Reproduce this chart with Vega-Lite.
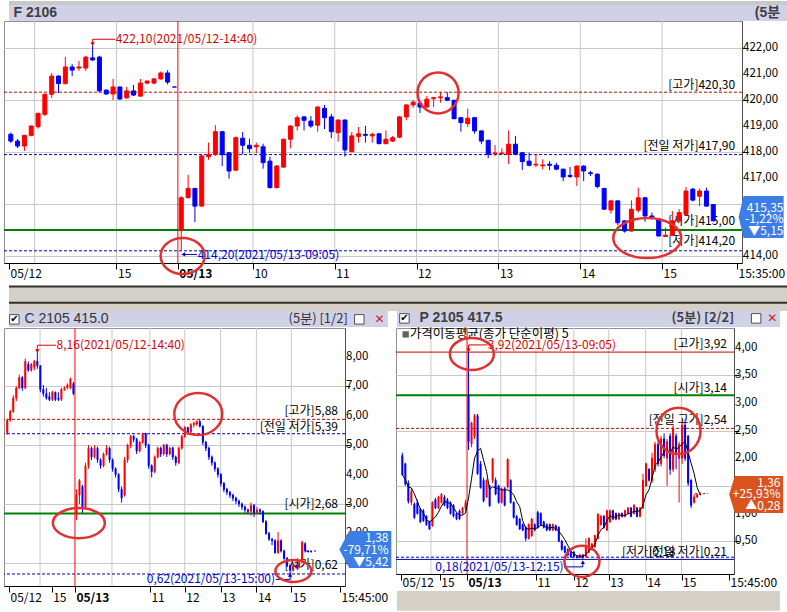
{
"$schema": "https://vega.github.io/schema/vega-lite/v6.json",
"padding": {"left": 2, "top": 0, "right": 0, "bottom": 0},
"background": "#ffffff",
"bounds": "flush",
"spacing": 65,
"config": {"view": {"stroke": "#909090"}, "axis": {"labelFont": "Noto Sans CJK KR, DejaVu Sans", "labelColor": "#000000"}, "text": {"font": "Noto Sans CJK KR, DejaVu Sans"}},
"datasets": {
"fut": [
{"i":-3.5,"o":418.68,"h":418.75,"l":418.35,"c":418.42},
{"i":-2.5,"o":418.42,"h":418.5,"l":418.15,"c":418.23},
{"i":-1.5,"o":418.23,"h":418.66,"l":418.04,"c":418.64},
{"i":-0.5,"o":418.64,"h":419.02,"l":418.6,"c":419.0},
{"i":0.5,"o":418.97,"h":419.5,"l":418.9,"c":419.49},
{"i":1.5,"o":419.45,"h":420.25,"l":419.38,"c":420.22},
{"i":2.5,"o":420.22,"h":421.04,"l":420.08,"c":420.92},
{"i":3.5,"o":420.92,"h":420.95,"l":420.27,"c":420.63},
{"i":4.5,"o":420.63,"h":421.65,"l":420.6,"c":421.27},
{"i":5.5,"o":421.27,"h":421.38,"l":420.92,"c":421.15},
{"i":6.5,"o":421.23,"h":421.5,"l":421.12,"c":421.27},
{"i":7.5,"o":421.23,"h":421.7,"l":421.12,"c":421.65},
{"i":8.5,"o":421.62,"h":422.1,"l":421.5,"c":421.54},
{"i":9.5,"o":421.65,"h":421.7,"l":420.3,"c":420.35},
{"i":10.5,"o":420.38,"h":420.4,"l":420.2,"c":420.23},
{"i":11.5,"o":420.23,"h":420.81,"l":420.0,"c":420.5},
{"i":12.5,"o":420.5,"h":420.52,"l":420.0,"c":420.04},
{"i":13.5,"o":420.08,"h":420.5,"l":420.05,"c":420.35},
{"i":14.5,"o":420.35,"h":420.58,"l":420.15,"c":420.19},
{"i":15.5,"o":420.15,"h":420.81,"l":420.12,"c":420.65},
{"i":16.5,"o":420.65,"h":420.75,"l":420.6,"c":420.73},
{"i":17.5,"o":420.65,"h":420.85,"l":420.6,"c":420.81},
{"i":18.5,"o":420.81,"h":421.1,"l":420.78,"c":421.04},
{"i":19.5,"o":421.04,"h":421.15,"l":420.6,"c":420.69},
{"i":20.5,"o":420.5,"h":420.5,"l":420.5,"c":420.5},
{"i":21.5,"o":415.0,"h":416.3,"l":414.2,"c":416.24},
{"i":22.5,"o":416.25,"h":417.12,"l":416.2,"c":416.6},
{"i":23.5,"o":416.6,"h":416.62,"l":415.3,"c":415.92},
{"i":24.5,"o":415.92,"h":417.88,"l":415.9,"c":417.85},
{"i":25.5,"o":417.82,"h":418.36,"l":417.7,"c":417.9},
{"i":26.5,"o":417.9,"h":419.03,"l":417.85,"c":418.78},
{"i":27.5,"o":418.78,"h":418.8,"l":417.46,"c":417.9},
{"i":28.5,"o":417.97,"h":418.0,"l":416.97,"c":417.27},
{"i":29.5,"o":417.3,"h":418.6,"l":417.28,"c":418.55},
{"i":30.5,"o":418.53,"h":418.77,"l":417.91,"c":418.26},
{"i":31.5,"o":418.26,"h":418.51,"l":417.97,"c":418.13},
{"i":32.5,"o":418.2,"h":418.36,"l":417.95,"c":418.26},
{"i":33.5,"o":418.2,"h":418.32,"l":417.36,"c":417.59},
{"i":34.5,"o":417.65,"h":417.82,"l":416.6,"c":416.63},
{"i":35.5,"o":416.63,"h":417.5,"l":416.6,"c":417.46},
{"i":36.5,"o":417.42,"h":418.52,"l":417.4,"c":418.49},
{"i":37.5,"o":418.49,"h":419.02,"l":418.14,"c":419.0},
{"i":38.5,"o":419.0,"h":419.41,"l":418.83,"c":419.32},
{"i":39.5,"o":419.35,"h":419.37,"l":418.83,"c":419.22},
{"i":40.5,"o":419.19,"h":419.38,"l":418.93,"c":419.0},
{"i":41.5,"o":419.03,"h":419.75,"l":418.78,"c":419.73},
{"i":42.5,"o":419.68,"h":419.81,"l":418.88,"c":419.32},
{"i":43.5,"o":419.35,"h":419.47,"l":418.53,"c":418.78},
{"i":44.5,"o":418.74,"h":419.25,"l":418.4,"c":419.23},
{"i":45.5,"o":419.23,"h":419.25,"l":417.82,"c":418.08},
{"i":46.5,"o":418.01,"h":418.77,"l":418.0,"c":418.62},
{"i":47.5,"o":418.6,"h":418.96,"l":418.36,"c":418.7},
{"i":48.5,"o":418.68,"h":419.0,"l":418.36,"c":418.64},
{"i":49.5,"o":418.62,"h":418.74,"l":418.36,"c":418.68},
{"i":50.5,"o":418.7,"h":418.72,"l":418.3,"c":418.32},
{"i":51.5,"o":418.32,"h":418.83,"l":418.3,"c":418.49},
{"i":52.5,"o":418.42,"h":418.62,"l":418.38,"c":418.55},
{"i":53.5,"o":418.57,"h":419.37,"l":418.53,"c":419.35},
{"i":54.5,"o":419.35,"h":419.83,"l":419.22,"c":419.81},
{"i":55.5,"o":419.81,"h":419.99,"l":419.7,"c":419.92},
{"i":56.5,"o":419.88,"h":419.9,"l":419.5,"c":419.73},
{"i":57.5,"o":419.73,"h":420.15,"l":419.7,"c":420.03},
{"i":58.5,"o":420.05,"h":420.11,"l":419.73,"c":420.09},
{"i":59.5,"o":420.09,"h":420.31,"l":419.9,"c":420.12},
{"i":60.5,"o":420.09,"h":420.3,"l":419.97,"c":419.99},
{"i":61.5,"o":419.99,"h":420.0,"l":419.26,"c":419.28},
{"i":62.5,"o":419.32,"h":419.34,"l":418.78,"c":419.13},
{"i":63.5,"o":419.09,"h":419.67,"l":418.96,"c":419.3},
{"i":64.5,"o":419.32,"h":419.34,"l":418.7,"c":418.81},
{"i":65.5,"o":418.81,"h":418.83,"l":418.3,"c":418.42},
{"i":66.5,"o":418.45,"h":418.47,"l":417.76,"c":417.91},
{"i":67.5,"o":417.93,"h":418.27,"l":417.85,"c":417.96},
{"i":68.5,"o":417.93,"h":418.14,"l":417.9,"c":417.96},
{"i":69.5,"o":417.91,"h":418.83,"l":417.53,"c":418.3},
{"i":70.5,"o":418.3,"h":418.62,"l":417.88,"c":417.91},
{"i":71.5,"o":417.97,"h":417.99,"l":417.31,"c":417.63},
{"i":72.5,"o":417.65,"h":417.97,"l":417.45,"c":417.49},
{"i":73.5,"o":417.5,"h":417.91,"l":417.42,"c":417.53},
{"i":74.5,"o":417.47,"h":417.72,"l":417.33,"c":417.5},
{"i":75.5,"o":417.53,"h":417.65,"l":417.3,"c":417.49},
{"i":76.5,"o":417.49,"h":417.59,"l":417.3,"c":417.34},
{"i":77.5,"o":417.34,"h":417.36,"l":416.88,"c":417.04},
{"i":78.5,"o":417.1,"h":417.42,"l":417.0,"c":417.06},
{"i":79.5,"o":417.04,"h":417.48,"l":416.69,"c":417.46},
{"i":80.5,"o":417.46,"h":417.48,"l":416.88,"c":417.27},
{"i":81.5,"o":417.2,"h":417.27,"l":417.08,"c":417.17},
{"i":82.5,"o":417.15,"h":417.17,"l":416.6,"c":416.67},
{"i":83.5,"o":416.6,"h":416.62,"l":415.78,"c":415.8},
{"i":84.5,"o":415.77,"h":416.14,"l":415.63,"c":416.12},
{"i":85.5,"o":416.12,"h":416.14,"l":415.19,"c":415.28},
{"i":86.5,"o":415.35,"h":415.37,"l":414.9,"c":414.96},
{"i":87.5,"o":414.96,"h":416.14,"l":414.94,"c":415.8},
{"i":88.5,"o":415.76,"h":416.63,"l":415.67,"c":416.24},
{"i":89.5,"o":416.24,"h":416.26,"l":415.32,"c":415.54},
{"i":90.5,"o":415.54,"h":415.67,"l":415.41,"c":415.5},
{"i":91.5,"o":415.41,"h":415.43,"l":414.75,"c":414.77},
{"i":92.5,"o":414.75,"h":415.09,"l":414.73,"c":414.8},
{"i":93.5,"o":414.8,"h":415.73,"l":414.78,"c":415.35},
{"i":94.5,"o":415.35,"h":415.8,"l":415.3,"c":415.67},
{"i":95.5,"o":415.6,"h":416.65,"l":415.58,"c":416.5},
{"i":96.5,"o":416.57,"h":416.62,"l":416.1,"c":416.15},
{"i":97.5,"o":416.3,"h":416.6,"l":415.92,"c":416.5},
{"i":98.5,"o":416.5,"h":416.63,"l":415.9,"c":415.92},
{"i":99.5,"o":415.98,"h":416.0,"l":415.35,"c":415.35}
],
"call": [
{"i":-1.5,"o":5.4,"h":5.9,"l":5.35,"c":5.85},
{"i":-0.5,"o":5.85,"h":6.2,"l":5.8,"c":6.15},
{"i":0.5,"o":6.15,"h":6.7,"l":6.1,"c":6.6},
{"i":1.5,"o":6.6,"h":7.0,"l":6.5,"c":6.95},
{"i":2.5,"o":6.95,"h":7.4,"l":6.9,"c":7.3},
{"i":3.5,"o":7.3,"h":7.35,"l":6.85,"c":6.95},
{"i":4.5,"o":6.95,"h":7.95,"l":6.9,"c":7.85},
{"i":5.5,"o":7.75,"h":7.85,"l":7.5,"c":7.55},
{"i":6.5,"o":7.55,"h":7.8,"l":7.5,"c":7.75},
{"i":7.5,"o":7.65,"h":7.9,"l":7.55,"c":7.85},
{"i":8.5,"o":7.85,"h":8.16,"l":7.6,"c":7.7},
{"i":9.5,"o":7.7,"h":7.72,"l":6.8,"c":6.9},
{"i":10.5,"o":6.9,"h":7.05,"l":6.65,"c":6.75},
{"i":11.5,"o":6.75,"h":6.95,"l":6.55,"c":6.6},
{"i":12.5,"o":6.65,"h":6.8,"l":6.5,"c":6.55},
{"i":13.5,"o":6.55,"h":6.85,"l":6.5,"c":6.8},
{"i":14.5,"o":6.8,"h":6.82,"l":6.5,"c":6.55},
{"i":15.5,"o":6.6,"h":6.8,"l":6.5,"c":6.55},
{"i":16.5,"o":6.55,"h":6.95,"l":6.5,"c":6.9},
{"i":17.5,"o":6.9,"h":7.0,"l":6.85,"c":6.95},
{"i":18.5,"o":6.95,"h":7.1,"l":6.9,"c":7.05},
{"i":19.5,"o":6.95,"h":7.3,"l":6.9,"c":7.25},
{"i":20.5,"o":7.1,"h":7.15,"l":6.7,"c":6.75},
{"i":21.5,"o":2.68,"h":3.5,"l":2.45,"c":3.3},
{"i":22.5,"o":3.3,"h":3.85,"l":3.0,"c":3.8},
{"i":23.5,"o":3.6,"h":3.65,"l":2.7,"c":2.9},
{"i":24.5,"o":2.9,"h":4.4,"l":2.85,"c":4.3},
{"i":25.5,"o":4.3,"h":5.0,"l":4.2,"c":4.9},
{"i":26.5,"o":4.9,"h":4.95,"l":4.5,"c":4.6},
{"i":27.5,"o":4.6,"h":5.0,"l":4.55,"c":4.9},
{"i":28.5,"o":4.9,"h":4.95,"l":4.4,"c":4.5},
{"i":29.5,"o":4.5,"h":4.55,"l":4.2,"c":4.3},
{"i":30.5,"o":4.3,"h":4.75,"l":4.25,"c":4.7},
{"i":31.5,"o":4.7,"h":5.0,"l":4.65,"c":4.9},
{"i":32.5,"o":4.9,"h":4.95,"l":4.4,"c":4.5},
{"i":33.5,"o":4.5,"h":4.55,"l":4.1,"c":4.2},
{"i":34.5,"o":4.2,"h":4.25,"l":3.9,"c":4.0},
{"i":35.5,"o":4.0,"h":4.05,"l":3.4,"c":3.5},
{"i":36.5,"o":3.5,"h":3.6,"l":3.05,"c":3.2},
{"i":37.5,"o":3.3,"h":4.6,"l":3.25,"c":4.5},
{"i":38.5,"o":4.5,"h":5.05,"l":4.4,"c":5.0},
{"i":39.5,"o":5.0,"h":5.35,"l":4.9,"c":5.3},
{"i":40.5,"o":5.3,"h":5.35,"l":5.1,"c":5.2},
{"i":41.5,"o":5.2,"h":5.25,"l":4.7,"c":4.8},
{"i":42.5,"o":4.8,"h":5.15,"l":4.75,"c":5.1},
{"i":43.5,"o":5.1,"h":5.42,"l":5.05,"c":5.4},
{"i":44.5,"o":5.4,"h":5.42,"l":4.9,"c":5.0},
{"i":45.5,"o":5.0,"h":5.05,"l":4.2,"c":4.3},
{"i":46.5,"o":4.3,"h":4.35,"l":3.9,"c":4.1},
{"i":47.5,"o":4.1,"h":4.65,"l":4.05,"c":4.6},
{"i":48.5,"o":4.6,"h":4.95,"l":4.55,"c":4.9},
{"i":49.5,"o":4.9,"h":4.95,"l":4.6,"c":4.7},
{"i":50.5,"o":4.7,"h":5.05,"l":4.65,"c":5.0},
{"i":51.5,"o":5.0,"h":5.05,"l":4.6,"c":4.7},
{"i":52.5,"o":4.7,"h":4.95,"l":4.65,"c":4.9},
{"i":53.5,"o":4.9,"h":4.95,"l":4.5,"c":4.6},
{"i":54.5,"o":4.6,"h":4.65,"l":4.3,"c":4.4},
{"i":55.5,"o":4.4,"h":4.95,"l":4.35,"c":4.9},
{"i":56.5,"o":4.9,"h":5.35,"l":4.85,"c":5.3},
{"i":57.5,"o":5.3,"h":5.65,"l":5.25,"c":5.6},
{"i":58.5,"o":5.6,"h":5.62,"l":5.35,"c":5.45},
{"i":59.5,"o":5.45,"h":5.75,"l":5.4,"c":5.7},
{"i":60.5,"o":5.7,"h":5.8,"l":5.6,"c":5.75},
{"i":61.5,"o":5.72,"h":5.85,"l":5.65,"c":5.8},
{"i":62.5,"o":5.8,"h":5.88,"l":5.6,"c":5.65},
{"i":63.5,"o":5.65,"h":5.67,"l":5.0,"c":5.1},
{"i":64.5,"o":5.1,"h":5.15,"l":4.8,"c":4.9},
{"i":65.5,"o":4.9,"h":4.95,"l":4.5,"c":4.6},
{"i":66.5,"o":4.6,"h":4.65,"l":4.3,"c":4.4},
{"i":67.5,"o":4.4,"h":4.45,"l":4.1,"c":4.2},
{"i":68.5,"o":4.2,"h":4.25,"l":3.9,"c":4.0},
{"i":69.5,"o":4.0,"h":4.05,"l":3.6,"c":3.7},
{"i":70.5,"o":3.7,"h":3.75,"l":3.4,"c":3.5},
{"i":71.5,"o":3.5,"h":3.55,"l":3.3,"c":3.4},
{"i":72.5,"o":3.4,"h":3.45,"l":3.2,"c":3.3},
{"i":73.5,"o":3.3,"h":3.35,"l":3.1,"c":3.2},
{"i":74.5,"o":3.2,"h":3.25,"l":3.0,"c":3.1},
{"i":75.5,"o":3.1,"h":3.15,"l":2.9,"c":3.0},
{"i":76.5,"o":3.0,"h":3.05,"l":2.8,"c":2.9},
{"i":77.5,"o":2.9,"h":2.95,"l":2.7,"c":2.8},
{"i":78.5,"o":2.8,"h":2.85,"l":2.65,"c":2.75},
{"i":79.5,"o":2.75,"h":3.05,"l":2.6,"c":2.95},
{"i":80.5,"o":2.95,"h":3.0,"l":2.55,"c":2.7},
{"i":81.5,"o":2.7,"h":2.9,"l":2.65,"c":2.8},
{"i":82.5,"o":2.8,"h":2.85,"l":2.65,"c":2.75},
{"i":83.5,"o":2.75,"h":2.78,"l":2.35,"c":2.4},
{"i":84.5,"o":2.4,"h":2.45,"l":1.95,"c":2.0},
{"i":85.5,"o":2.0,"h":2.05,"l":1.75,"c":1.8},
{"i":86.5,"o":1.8,"h":1.85,"l":1.6,"c":1.75},
{"i":87.5,"o":1.75,"h":1.8,"l":1.3,"c":1.35},
{"i":88.5,"o":1.35,"h":2.05,"l":1.3,"c":1.75},
{"i":89.5,"o":1.75,"h":1.8,"l":1.35,"c":1.4},
{"i":90.5,"o":1.4,"h":1.45,"l":1.1,"c":1.15},
{"i":91.5,"o":1.15,"h":1.2,"l":0.85,"c":0.9},
{"i":92.5,"o":0.9,"h":0.95,"l":0.62,"c":0.75},
{"i":93.5,"o":0.75,"h":0.95,"l":0.7,"c":0.9},
{"i":94.5,"o":0.9,"h":0.95,"l":0.8,"c":0.85},
{"i":95.5,"o":0.85,"h":1.05,"l":0.8,"c":1.0},
{"i":96.5,"o":1.05,"h":1.75,"l":1.0,"c":1.7},
{"i":97.5,"o":1.65,"h":1.7,"l":1.35,"c":1.4},
{"i":98.5,"o":1.4,"h":1.42,"l":1.35,"c":1.38},
{"i":99.5,"o":1.38,"h":1.4,"l":1.36,"c":1.37}
],
"put": [
{"i":-0.5,"o":2.05,"h":2.1,"l":1.68,"c":1.7},
{"i":0.5,"o":1.9,"h":1.92,"l":1.5,"c":1.53},
{"i":1.5,"o":1.55,"h":1.6,"l":1.18,"c":1.22},
{"i":2.5,"o":1.2,"h":1.45,"l":1.15,"c":1.4},
{"i":3.5,"o":1.17,"h":1.2,"l":0.9,"c":0.93},
{"i":4.5,"o":1.2,"h":1.25,"l":0.98,"c":1.0},
{"i":5.5,"o":1.08,"h":1.1,"l":0.83,"c":0.85},
{"i":6.5,"o":1.05,"h":1.08,"l":0.85,"c":0.87},
{"i":7.5,"o":0.95,"h":0.97,"l":0.78,"c":0.8},
{"i":8.5,"o":0.85,"h":0.87,"l":0.7,"c":0.72},
{"i":9.5,"o":0.78,"h":1.22,"l":0.76,"c":1.2},
{"i":10.5,"o":1.25,"h":1.28,"l":1.08,"c":1.1},
{"i":11.5,"o":1.1,"h":1.32,"l":1.08,"c":1.3},
{"i":12.5,"o":1.2,"h":1.37,"l":1.18,"c":1.35},
{"i":13.5,"o":1.3,"h":1.33,"l":1.13,"c":1.15},
{"i":14.5,"o":1.25,"h":1.28,"l":1.08,"c":1.1},
{"i":15.5,"o":1.2,"h":1.22,"l":0.98,"c":1.0},
{"i":16.5,"o":1.15,"h":1.17,"l":0.93,"c":0.95},
{"i":17.5,"o":1.0,"h":1.02,"l":0.88,"c":0.9},
{"i":18.5,"o":1.05,"h":1.07,"l":0.88,"c":0.9},
{"i":19.5,"o":1.0,"h":1.12,"l":0.98,"c":1.1},
{"i":20.5,"o":1.1,"h":1.25,"l":1.05,"c":1.2},
{"i":21.5,"o":3.14,"h":3.92,"l":2.15,"c":2.3},
{"i":22.5,"o":2.26,"h":2.66,"l":2.2,"c":2.64},
{"i":23.5,"o":2.4,"h":2.8,"l":2.35,"c":2.77},
{"i":24.5,"o":2.77,"h":2.8,"l":1.7,"c":1.72},
{"i":25.5,"o":1.9,"h":1.95,"l":1.45,"c":1.47},
{"i":26.5,"o":1.6,"h":1.65,"l":1.2,"c":1.23},
{"i":27.5,"o":1.3,"h":1.62,"l":1.28,"c":1.6},
{"i":28.5,"o":1.5,"h":1.52,"l":1.12,"c":1.14},
{"i":29.5,"o":1.6,"h":2.0,"l":1.55,"c":1.99},
{"i":30.5,"o":1.6,"h":1.65,"l":1.33,"c":1.35},
{"i":31.5,"o":1.5,"h":1.52,"l":1.18,"c":1.2},
{"i":32.5,"o":1.2,"h":1.47,"l":1.18,"c":1.45},
{"i":33.5,"o":1.45,"h":1.48,"l":1.13,"c":1.15},
{"i":34.5,"o":1.48,"h":2.0,"l":1.45,"c":1.98},
{"i":35.5,"o":1.6,"h":1.62,"l":1.18,"c":1.2},
{"i":36.5,"o":1.2,"h":1.22,"l":0.91,"c":0.93},
{"i":37.5,"o":0.95,"h":0.97,"l":0.78,"c":0.8},
{"i":38.5,"o":0.9,"h":0.92,"l":0.7,"c":0.72},
{"i":39.5,"o":0.8,"h":0.82,"l":0.68,"c":0.7},
{"i":40.5,"o":0.75,"h":0.77,"l":0.5,"c":0.55},
{"i":41.5,"o":0.55,"h":0.82,"l":0.53,"c":0.8},
{"i":42.5,"o":0.6,"h":0.92,"l":0.58,"c":0.9},
{"i":43.5,"o":0.8,"h":0.82,"l":0.68,"c":0.7},
{"i":44.5,"o":1.02,"h":1.05,"l":0.73,"c":0.75},
{"i":45.5,"o":1.0,"h":1.02,"l":0.78,"c":0.8},
{"i":46.5,"o":0.85,"h":0.87,"l":0.73,"c":0.75},
{"i":47.5,"o":0.8,"h":0.82,"l":0.68,"c":0.7},
{"i":48.5,"o":0.8,"h":0.82,"l":0.68,"c":0.7},
{"i":49.5,"o":0.7,"h":0.82,"l":0.68,"c":0.8},
{"i":50.5,"o":0.78,"h":0.8,"l":0.68,"c":0.7},
{"i":51.5,"o":0.75,"h":0.77,"l":0.48,"c":0.5},
{"i":52.5,"o":0.5,"h":0.52,"l":0.33,"c":0.35},
{"i":53.5,"o":0.4,"h":0.42,"l":0.28,"c":0.3},
{"i":54.5,"o":0.35,"h":0.37,"l":0.23,"c":0.25},
{"i":55.5,"o":0.3,"h":0.32,"l":0.2,"c":0.22},
{"i":56.5,"o":0.3,"h":0.32,"l":0.2,"c":0.22},
{"i":57.5,"o":0.22,"h":0.24,"l":0.19,"c":0.2},
{"i":58.5,"o":0.2,"h":0.27,"l":0.19,"c":0.25},
{"i":59.5,"o":0.25,"h":0.27,"l":0.18,"c":0.22},
{"i":60.5,"o":0.22,"h":0.55,"l":0.2,"c":0.4},
{"i":61.5,"o":0.3,"h":0.57,"l":0.28,"c":0.55},
{"i":62.5,"o":0.35,"h":0.47,"l":0.33,"c":0.45},
{"i":63.5,"o":0.4,"h":0.62,"l":0.38,"c":0.6},
{"i":64.5,"o":0.55,"h":1.0,"l":0.53,"c":0.99},
{"i":65.5,"o":0.8,"h":0.97,"l":0.78,"c":0.95},
{"i":66.5,"o":0.95,"h":0.97,"l":0.73,"c":0.75},
{"i":67.5,"o":0.7,"h":1.07,"l":0.68,"c":1.05},
{"i":68.5,"o":0.85,"h":1.07,"l":0.83,"c":1.05},
{"i":69.5,"o":1.05,"h":1.07,"l":0.88,"c":0.9},
{"i":70.5,"o":1.0,"h":1.02,"l":0.88,"c":0.9},
{"i":71.5,"o":0.9,"h":1.02,"l":0.88,"c":1.0},
{"i":72.5,"o":1.0,"h":1.02,"l":0.93,"c":0.95},
{"i":73.5,"o":0.95,"h":1.07,"l":0.93,"c":1.05},
{"i":74.5,"o":1.0,"h":1.12,"l":0.98,"c":1.1},
{"i":75.5,"o":1.1,"h":1.12,"l":0.93,"c":0.95},
{"i":76.5,"o":1.0,"h":1.17,"l":0.98,"c":1.15},
{"i":77.5,"o":1.1,"h":1.12,"l":0.93,"c":0.95},
{"i":78.5,"o":0.95,"h":1.12,"l":0.93,"c":1.1},
{"i":79.5,"o":1.1,"h":1.72,"l":1.08,"c":1.6},
{"i":80.5,"o":1.5,"h":1.92,"l":1.48,"c":1.9},
{"i":81.5,"o":1.8,"h":1.82,"l":1.58,"c":1.6},
{"i":82.5,"o":1.6,"h":2.1,"l":1.55,"c":2.0},
{"i":83.5,"o":1.8,"h":2.3,"l":1.75,"c":2.25},
{"i":84.5,"o":2.25,"h":2.3,"l":1.85,"c":1.9},
{"i":85.5,"o":1.9,"h":2.4,"l":1.85,"c":2.35},
{"i":86.5,"o":2.35,"h":2.45,"l":2.0,"c":2.05},
{"i":87.5,"o":2.0,"h":2.35,"l":1.5,"c":2.3},
{"i":88.5,"o":2.4,"h":2.45,"l":1.7,"c":1.8},
{"i":89.5,"o":1.8,"h":2.6,"l":1.75,"c":2.55},
{"i":90.5,"o":2.4,"h":2.45,"l":1.8,"c":2.1},
{"i":91.5,"o":2.0,"h":2.3,"l":1.2,"c":2.25},
{"i":92.5,"o":2.0,"h":2.65,"l":1.9,"c":2.6},
{"i":93.5,"o":2.6,"h":2.7,"l":1.95,"c":2.0},
{"i":94.5,"o":2.4,"h":2.42,"l":1.5,"c":1.55},
{"i":95.5,"o":1.6,"h":1.62,"l":1.1,"c":1.15},
{"i":96.5,"o":1.2,"h":1.35,"l":1.18,"c":1.3},
{"i":97.5,"o":1.3,"h":1.36,"l":1.28,"c":1.34},
{"i":98.5,"o":1.34,"h":1.38,"l":1.33,"c":1.36}
]
},
"vconcat": [
{
"width": 738, "height": 242,
"layer": [
{"data": {"values": [{"i": 0, "p": 413.731, "p2": 423.038}, {"i": 32, "p": 413.731, "p2": 423.038}, {"i": 44, "p": 413.731, "p2": 423.038}, {"i": 56, "p": 413.731, "p2": 423.038}, {"i": 68, "p": 413.731, "p2": 423.038}, {"i": 80, "p": 413.731, "p2": 423.038}, {"i": 92, "p": 413.731, "p2": 423.038}, {"i": 12, "p": 413.731, "p2": 423.038}]},
 "mark": {"type": "rule", "color": "#c8c8c8", "strokeWidth": 1},
 "encoding": {
  "x": {"field": "i", "type": "quantitative", "scale": {"domain": [-3.76, 102.98], "nice": false, "zero": false},
   "axis": {"title": null, "disable": false, "orient": "bottom", "values": [-3.76, 12, 21, 32, 44, 56, 68, 80, 92, 102.98],
    "labelExpr": "['05/12','15','05/13','10','11','12','13','14','15','\u00a0\u00a015:35:00'][indexof([-3.76,12,21,32,44,56,68,80,92,102.98], datum.value)]",
    "labelAlign": "left", "labelOffset": 1, "labelPadding": -1, "labelFontSize": 12,
    "labelFontWeight": {"condition": {"test": "datum.value == 21", "value": "bold"}, "value": "normal"},
    "labelBound": false, "labelOverlap": false, "labelFlush": false, "tickSize": 6, "tickColor": "#000000",
    "grid": false, "domainColor": "#000000"}},
  "y": {"field": "p", "type": "quantitative", "scale": {"domain": [413.731, 423.038], "nice": false, "zero": false},
   "axis": {"title": null, "disable": false, "orient": "right", "values": [414, 415, 416, 417, 418, 419, 420, 421, 422], "labels": false,
    "tickSize": 5, "grid": true, "gridColor": "#c8c8c8", "domainColor": "#505050", "tickColor": "#000000"}},
  "y2": {"field": "p2"}}},
{"data": {"values": [{"i": 102.98, "p": 414, "t": "414,00"}, {"i": 102.98, "p": 417, "t": "417,00"}, {"i": 102.98, "p": 418, "t": "418,00"}, {"i": 102.98, "p": 419, "t": "419,00"}, {"i": 102.98, "p": 420, "t": "420,00"}, {"i": 102.98, "p": 421, "t": "421,00"}, {"i": 102.98, "p": 422, "t": "422,00"}]},
 "mark": {"type": "text", "align": "left", "baseline": "middle", "dx": 6, "fontSize": 11.5, "color": "#000000"},
 "encoding": {"x": {"field": "i", "type": "quantitative", "scale": {"domain": [-3.76, 102.98], "nice": false, "zero": false}},
 "y": {"field": "p", "type": "quantitative", "scale": {"domain": [413.731, 423.038], "nice": false, "zero": false}}, "text": {"field": "t"}}},
{"data": {"values": [{"i": -3.76, "i2": 112, "p": 423.038, "p2": 423.654}]}, "mark": {"type": "rect", "color": "#d0d0e6"},
 "encoding": {"x": {"field": "i", "type": "quantitative", "scale": {"domain": [-3.76, 102.98], "nice": false, "zero": false}}, "x2": {"field": "i2"},
 "y": {"field": "p", "type": "quantitative", "scale": {"domain": [413.731, 423.038], "nice": false, "zero": false}}, "y2": {"field": "p2"}}},
{"data": {"values": [{"i": -3.76, "i2": 112, "p": 423.654, "p2": 423.808}]}, "mark": {"type": "rect", "color": "#c8c8c8"},
 "encoding": {"x": {"field": "i", "type": "quantitative", "scale": {"domain": [-3.76, 102.98], "nice": false, "zero": false}}, "x2": {"field": "i2"},
 "y": {"field": "p", "type": "quantitative", "scale": {"domain": [413.731, 423.038], "nice": false, "zero": false}}, "y2": {"field": "p2"}}},
{"data": {"values": [{"i": -3.76, "i2": 112, "p": 412.846, "p2": 411.885}]}, "mark": {"type": "rect", "color": "#d4d0c8"},
 "encoding": {"x": {"field": "i", "type": "quantitative", "scale": {"domain": [-3.76, 102.98], "nice": false, "zero": false}}, "x2": {"field": "i2"},
 "y": {"field": "p", "type": "quantitative", "scale": {"domain": [413.731, 423.038], "nice": false, "zero": false}}, "y2": {"field": "p2"}}},
{"data": {"values": [{"i": -3.76, "i2": 112, "p": 412.83, "p2": 412.83}, {"i": -3.76, "i2": 112, "p": 412.2, "p2": 412.2}]}, "mark": {"type": "rule", "color": "#303030", "strokeWidth": 2},
 "encoding": {"x": {"field": "i", "type": "quantitative", "scale": {"domain": [-3.76, 102.98], "nice": false, "zero": false}}, "x2": {"field": "i2"},
 "y": {"field": "p", "type": "quantitative", "scale": {"domain": [413.731, 423.038], "nice": false, "zero": false}}, "y2": {"field": "p2"}}},
{"data": {"values": [{"i": -3.1, "p": 423.35, "t": "F 2106"}, {"i": 105.6, "p": 423.35, "t": "(5분"}]}, "mark": {"type": "text", "align": "left", "baseline": "middle", "fontSize": 14, "fontWeight": "bold", "color": "#404040", "font": "Liberation Sans, Noto Sans CJK KR"},
 "encoding": {"x": {"field": "i", "type": "quantitative", "scale": {"domain": [-3.76, 102.98], "nice": false, "zero": false}},
 "y": {"field": "p", "type": "quantitative", "scale": {"domain": [413.731, 423.038], "nice": false, "zero": false}}, "text": {"field": "t"}}},
{"data": {"values": [{"p": 420.3}]}, "mark": {"type": "rule", "color": "#cc0000", "strokeDash": [3, 2], "strokeWidth": 1},
 "encoding": {"y": {"field": "p", "type": "quantitative", "scale": {"domain": [413.731, 423.038], "nice": false, "zero": false}}}},
{"data": {"values": [{"p": 417.9}, {"p": 414.2}]}, "mark": {"type": "rule", "color": "#0000aa", "strokeDash": [3, 2], "strokeWidth": 1},
 "encoding": {"y": {"field": "p", "type": "quantitative", "scale": {"domain": [413.731, 423.038], "nice": false, "zero": false}}}},
{"data": {"values": [{"p": 415.0}]}, "mark": {"type": "rule", "color": "#008000", "strokeWidth": 2},
 "encoding": {"y": {"field": "p", "type": "quantitative", "scale": {"domain": [413.731, 423.038], "nice": false, "zero": false}}}},
{"data": {"values": [{"i": 21}]}, "mark": {"type": "rule", "color": "#ff0000", "strokeWidth": 1},
 "encoding": {"x": {"field": "i", "type": "quantitative", "scale": {"domain": [-3.76, 102.98], "nice": false, "zero": false}}}},
{"data": {"values": [{"i": 102.7, "p": 420.58, "t": "[고가]420,30"}, {"i": 102.7, "p": 418.23, "t": "[전일 저가]417,90"}, {"i": 102.7, "p": 415.35, "t": "[시가]415,00"}, {"i": 102.7, "p": 414.58, "t": "[저가]414,20"}]},
 "mark": {"type": "text", "align": "right", "baseline": "middle", "fontSize": 12, "color": "#000000"},
 "encoding": {"x": {"field": "i", "type": "quantitative", "scale": {"domain": [-3.76, 102.98], "nice": false, "zero": false}},
 "y": {"field": "p", "type": "quantitative", "scale": {"domain": [413.731, 423.038], "nice": false, "zero": false}}, "text": {"field": "t"}}},
{"data": {"name": "fut"}, "mark": {"type": "rule", "clip": true, "strokeWidth": 1},
 "encoding": {"x": {"field": "i", "type": "quantitative", "scale": {"domain": [-3.76, 102.98], "nice": false, "zero": false}},
  "y": {"field": "l", "type": "quantitative", "scale": {"domain": [413.731, 423.038], "nice": false, "zero": false}}, "y2": {"field": "h"},
  "color": {"condition": {"test": "datum.c > datum.o", "value": "#ff0000"}, "value": "#0000ff"}}},
{"data": {"name": "fut"}, "mark": {"type": "bar", "clip": true, "width": 4, "strokeWidth": 1},
 "encoding": {"x": {"field": "i", "type": "quantitative", "scale": {"domain": [-3.76, 102.98], "nice": false, "zero": false}},
  "y": {"field": "o", "type": "quantitative", "scale": {"domain": [413.731, 423.038], "nice": false, "zero": false}}, "y2": {"field": "c"},
  "color": {"condition": {"test": "datum.c > datum.o", "value": "#ff0000"}, "value": "#0000ff"},
  "stroke": {"condition": {"test": "datum.c > datum.o", "value": "#ff0000"}, "value": "#0000ff"}}},
{"data": {"values": [{"i": 11.9, "p": 422.335, "t": "422,10(2021/05/12-14:40)"}]}, "mark": {"type": "text", "align": "left", "baseline": "middle", "fontSize": 12, "color": "#dd0000"},
 "encoding": {"x": {"field": "i", "type": "quantitative", "scale": {"domain": [-3.76, 102.98], "nice": false, "zero": false}},
 "y": {"field": "p", "type": "quantitative", "scale": {"domain": [413.731, 423.038], "nice": false, "zero": false}}, "text": {"field": "t"}}},
{"data": {"values": [{"i": 8.5, "i2": 11.8, "p": 422.335, "p2": 422.335}, {"i": 8.5, "i2": 8.5, "p": 422.335, "p2": 422.16}]}, "mark": {"type": "rule", "color": "#dd0000", "strokeWidth": 1},
 "encoding": {"x": {"field": "i", "type": "quantitative", "scale": {"domain": [-3.76, 102.98], "nice": false, "zero": false}}, "x2": {"field": "i2"},
 "y": {"field": "p", "type": "quantitative", "scale": {"domain": [413.731, 423.038], "nice": false, "zero": false}}, "y2": {"field": "p2"}}},
{"data": {"values": [{"i": 8.5, "p": 422.15}]}, "mark": {"type": "point", "shape": "triangle-down", "size": 18, "filled": true, "color": "#dd0000", "opacity": 1},
 "encoding": {"x": {"field": "i", "type": "quantitative", "scale": {"domain": [-3.76, 102.98], "nice": false, "zero": false}},
 "y": {"field": "p", "type": "quantitative", "scale": {"domain": [413.731, 423.038], "nice": false, "zero": false}}}},
{"data": {"values": [{"i": 23.9, "p": 414.02, "t": "414,20(2021/05/13-09:05)"}]}, "mark": {"type": "text", "align": "left", "baseline": "middle", "fontSize": 12, "color": "#0000cc"},
 "encoding": {"x": {"field": "i", "type": "quantitative", "scale": {"domain": [-3.76, 102.98], "nice": false, "zero": false}},
 "y": {"field": "p", "type": "quantitative", "scale": {"domain": [413.731, 423.038], "nice": false, "zero": false}}, "text": {"field": "t"}}},
{"data": {"values": [{"i": 21.6, "i2": 23.8, "p": 414.06, "p2": 414.06}]}, "mark": {"type": "rule", "color": "#0000cc", "strokeWidth": 1},
 "encoding": {"x": {"field": "i", "type": "quantitative", "scale": {"domain": [-3.76, 102.98], "nice": false, "zero": false}}, "x2": {"field": "i2"},
 "y": {"field": "p", "type": "quantitative", "scale": {"domain": [413.731, 423.038], "nice": false, "zero": false}}, "y2": {"field": "p2"}}},
{"data": {"values": [{"i": 21.8, "p": 414.06}]}, "mark": {"type": "point", "shape": "triangle-left", "size": 18, "filled": true, "color": "#0000cc", "opacity": 1},
 "encoding": {"x": {"field": "i", "type": "quantitative", "scale": {"domain": [-3.76, 102.98], "nice": false, "zero": false}},
 "y": {"field": "p", "type": "quantitative", "scale": {"domain": [413.731, 423.038], "nice": false, "zero": false}}}},
{"data": {"values": [{"i": 59.15, "p": 420.27}]}, "mark": {"type": "point", "shape": "circle", "size": 1681, "filled": false, "stroke": "#e03030", "strokeWidth": 2.5, "opacity": 1},
 "encoding": {"x": {"field": "i", "type": "quantitative", "scale": {"domain": [-3.76, 102.98], "nice": false, "zero": false}},
 "y": {"field": "p", "type": "quantitative", "scale": {"domain": [413.731, 423.038], "nice": false, "zero": false}}}},
{"data": {"values": [{"i": 21.7, "p": 414.0}]}, "mark": {"type": "point", "shape": "M-1,0A1,0.82,0,1,0,1,0A1,0.82,0,1,0,-1,0Z", "size": 1936, "filled": false, "stroke": "#e03030", "strokeWidth": 2.5, "opacity": 1},
 "encoding": {"x": {"field": "i", "type": "quantitative", "scale": {"domain": [-3.76, 102.98], "nice": false, "zero": false}},
 "y": {"field": "p", "type": "quantitative", "scale": {"domain": [413.731, 423.038], "nice": false, "zero": false}}}},
{"data": {"values": [{"i": 89.82, "p": 414.69}]}, "mark": {"type": "point", "shape": "M-1,0A1,0.59,0,1,0,1,0A1,0.59,0,1,0,-1,0Z", "size": 4624, "filled": false, "stroke": "#e03030", "strokeWidth": 2.5, "opacity": 1},
 "encoding": {"x": {"field": "i", "type": "quantitative", "scale": {"domain": [-3.76, 102.98], "nice": false, "zero": false}},
 "y": {"field": "p", "type": "quantitative", "scale": {"domain": [413.731, 423.038], "nice": false, "zero": false}}}},
{"data": {"values": [{"i": 106.52, "p": 415.5}]}, "mark": {"type": "point", "shape": "M-1,0L-0.78,-0.93L1,-0.93L1,0.93L-0.78,0.93Z", "size": 2025, "filled": true, "color": "#3d7ee6", "opacity": 1},
 "encoding": {"x": {"field": "i", "type": "quantitative", "scale": {"domain": [-3.76, 102.98], "nice": false, "zero": false}},
 "y": {"field": "p", "type": "quantitative", "scale": {"domain": [413.731, 423.038], "nice": false, "zero": false}}}},
{"data": {"values": [{"i": 109.8, "p": 415.86, "t": "415,35"}, {"i": 109.8, "p": 415.41, "t": "-1,22%"}, {"i": 109.8, "p": 414.96, "t": "▼5,15"}]}, "mark": {"type": "text", "align": "right", "baseline": "middle", "fontSize": 12, "color": "#ffffff"},
 "encoding": {"x": {"field": "i", "type": "quantitative", "scale": {"domain": [-3.76, 102.98], "nice": false, "zero": false}},
 "y": {"field": "p", "type": "quantitative", "scale": {"domain": [413.731, 423.038], "nice": false, "zero": false}}, "text": {"field": "t"}}}
]
},
{
"hconcat": [
{
"width": 341, "height": 258,
"layer": [
{"data": {"values": [{"i": 9.4, "p": 0.211, "p2": 8.986}, {"i": 33.3, "p": 0.211, "p2": 8.986}, {"i": 45.9, "p": 0.211, "p2": 8.986}, {"i": 57.5, "p": 0.211, "p2": 8.986}, {"i": 69.4, "p": 0.211, "p2": 8.986}, {"i": 81.3, "p": 0.211, "p2": 8.986}, {"i": 92.9, "p": 0.211, "p2": 8.986}]},
 "mark": {"type": "rule", "color": "#c8c8c8", "strokeWidth": 1},
 "encoding": {
  "x": {"field": "i", "type": "quantitative", "scale": {"domain": [-0.92, 109.08], "nice": false, "zero": false},
   "axis": {"title": null, "disable": false, "orient": "bottom", "values": [-0.92, 13.27, 21, 45.9, 57.5, 69.4, 81.3, 92.9, 109.08],
    "labelExpr": "['05/12','15','05/13','11','12','13','14','15','\u00a0\u00a015:45:00'][indexof([-0.92,13.27,21,45.9,57.5,69.4,81.3,92.9,109.08], datum.value)]",
    "labelAlign": "left", "labelOffset": 1, "labelPadding": 0, "labelFontSize": 12,
    "labelFontWeight": {"condition": {"test": "datum.value == 21", "value": "bold"}, "value": "normal"},
    "labelBound": false, "labelOverlap": false, "labelFlush": false, "tickSize": 6, "tickColor": "#000000",
    "grid": false, "domainColor": "#000000"}},
  "y": {"field": "p", "type": "quantitative", "scale": {"domain": [0.211, 8.986], "nice": false, "zero": false},
   "axis": {"title": null, "disable": false, "orient": "right", "values": [1, 2, 3, 4, 5, 6, 7, 8], "labels": false,
    "tickSize": 5, "grid": true, "gridColor": "#c8c8c8", "domainColor": "#505050", "tickColor": "#000000"}},
  "y2": {"field": "p2"}}},
{"data": {"values": [{"i": 109.08, "p": 2, "t": "2,00"}, {"i": 109.08, "p": 3, "t": "3,00"}, {"i": 109.08, "p": 4, "t": "4,00"}, {"i": 109.08, "p": 5, "t": "5,00"}, {"i": 109.08, "p": 6, "t": "6,00"}, {"i": 109.08, "p": 7, "t": "7,00"}, {"i": 109.08, "p": 8, "t": "8,00"}]},
 "mark": {"type": "text", "align": "left", "baseline": "middle", "dx": 6, "fontSize": 11.5, "color": "#000000"},
 "encoding": {"x": {"field": "i", "type": "quantitative", "scale": {"domain": [-0.92, 109.08], "nice": false, "zero": false}},
 "y": {"field": "p", "type": "quantitative", "scale": {"domain": [0.211, 8.986], "nice": false, "zero": false}}, "text": {"field": "t"}}},
{"data": {"values": [{"i": -0.92, "i2": 125, "p": 9.02, "p2": 9.56}]}, "mark": {"type": "rect", "color": "#d0d0e6"},
 "encoding": {"x": {"field": "i", "type": "quantitative", "scale": {"domain": [-0.92, 109.08], "nice": false, "zero": false}}, "x2": {"field": "i2"},
 "y": {"field": "p", "type": "quantitative", "scale": {"domain": [0.211, 8.986], "nice": false, "zero": false}}, "y2": {"field": "p2"}}},
{"data": {"values": [{"i": 0.85, "p": 9.28}, {"i": 115.5, "p": 9.28}]}, "mark": {"type": "point", "shape": "square", "size": 90, "filled": true, "fill": "#ffffff", "stroke": "#505050", "strokeWidth": 1, "opacity": 1},
 "encoding": {"x": {"field": "i", "type": "quantitative", "scale": {"domain": [-0.92, 109.08], "nice": false, "zero": false}},
 "y": {"field": "p", "type": "quantitative", "scale": {"domain": [0.211, 8.986], "nice": false, "zero": false}}}},
{"data": {"values": [{"i": 0.85, "p": 9.28, "t": "✔"}]}, "mark": {"type": "text", "align": "center", "baseline": "middle", "fontSize": 10, "color": "#000000", "font": "DejaVu Sans"},
 "encoding": {"x": {"field": "i", "type": "quantitative", "scale": {"domain": [-0.92, 109.08], "nice": false, "zero": false}},
 "y": {"field": "p", "type": "quantitative", "scale": {"domain": [0.211, 8.986], "nice": false, "zero": false}}, "text": {"field": "t"}}},
{"data": {"values": [{"i": 122.2, "p": 9.28, "t": "✕"}]}, "mark": {"type": "text", "align": "center", "baseline": "middle", "fontSize": 12, "color": "#cc2020", "font": "DejaVu Sans"},
 "encoding": {"x": {"field": "i", "type": "quantitative", "scale": {"domain": [-0.92, 109.08], "nice": false, "zero": false}},
 "y": {"field": "p", "type": "quantitative", "scale": {"domain": [0.211, 8.986], "nice": false, "zero": false}}, "text": {"field": "t"}}},
{"data": {"values": [{"i": 4.24, "p": 9.28, "t": "C 2105 415.0"}]}, "mark": {"type": "text", "align": "left", "baseline": "middle", "fontSize": 14, "color": "#333333", "font": "Liberation Sans"},
 "encoding": {"x": {"field": "i", "type": "quantitative", "scale": {"domain": [-0.92, 109.08], "nice": false, "zero": false}},
 "y": {"field": "p", "type": "quantitative", "scale": {"domain": [0.211, 8.986], "nice": false, "zero": false}}, "text": {"field": "t"}}},
{"data": {"values": [{"i": 92.0, "p": 9.28, "t": "(5분) [1/2]"}]}, "mark": {"type": "text", "align": "left", "baseline": "middle", "fontSize": 13, "color": "#333333"},
 "encoding": {"x": {"field": "i", "type": "quantitative", "scale": {"domain": [-0.92, 109.08], "nice": false, "zero": false}},
 "y": {"field": "p", "type": "quantitative", "scale": {"domain": [0.211, 8.986], "nice": false, "zero": false}}, "text": {"field": "t"}}},
{"data": {"values": [{"p": 5.88}]}, "mark": {"type": "rule", "color": "#cc0000", "strokeDash": [3, 2], "strokeWidth": 1},
 "encoding": {"y": {"field": "p", "type": "quantitative", "scale": {"domain": [0.211, 8.986], "nice": false, "zero": false}}}},
{"data": {"values": [{"p": 5.39}, {"p": 0.62}]}, "mark": {"type": "rule", "color": "#0000aa", "strokeDash": [3, 2], "strokeWidth": 1},
 "encoding": {"y": {"field": "p", "type": "quantitative", "scale": {"domain": [0.211, 8.986], "nice": false, "zero": false}}}},
{"data": {"values": [{"p": 2.68}]}, "mark": {"type": "rule", "color": "#008000", "strokeWidth": 2},
 "encoding": {"y": {"field": "p", "type": "quantitative", "scale": {"domain": [0.211, 8.986], "nice": false, "zero": false}}}},
{"data": {"values": [{"i": 21}]}, "mark": {"type": "rule", "color": "#ff0000", "strokeWidth": 1},
 "encoding": {"x": {"field": "i", "type": "quantitative", "scale": {"domain": [-0.92, 109.08], "nice": false, "zero": false}}}},
{"data": {"values": [{"i": 108.4, "p": 6.16, "t": "[고가]5,88"}, {"i": 108.4, "p": 5.63, "t": "[전일 저가]5,39"}, {"i": 108.4, "p": 2.99, "t": "[시가]2,68"}, {"i": 108.4, "p": 0.915, "t": "[저가]0,62"}]},
 "mark": {"type": "text", "align": "right", "baseline": "middle", "fontSize": 12, "color": "#000000"},
 "encoding": {"x": {"field": "i", "type": "quantitative", "scale": {"domain": [-0.92, 109.08], "nice": false, "zero": false}},
 "y": {"field": "p", "type": "quantitative", "scale": {"domain": [0.211, 8.986], "nice": false, "zero": false}}, "text": {"field": "t"}}},
{"data": {"name": "call"}, "mark": {"type": "rule", "clip": true, "strokeWidth": 1},
 "encoding": {"x": {"field": "i", "type": "quantitative", "scale": {"domain": [-0.92, 109.08], "nice": false, "zero": false}},
  "y": {"field": "l", "type": "quantitative", "scale": {"domain": [0.211, 8.986], "nice": false, "zero": false}}, "y2": {"field": "h"},
  "color": {"condition": {"test": "datum.c > datum.o", "value": "#ff0000"}, "value": "#0000ff"}}},
{"data": {"name": "call"}, "mark": {"type": "bar", "clip": true, "width": 1, "strokeWidth": 1},
 "encoding": {"x": {"field": "i", "type": "quantitative", "scale": {"domain": [-0.92, 109.08], "nice": false, "zero": false}},
  "y": {"field": "o", "type": "quantitative", "scale": {"domain": [0.211, 8.986], "nice": false, "zero": false}}, "y2": {"field": "c"},
  "color": {"condition": {"test": "datum.c > datum.o", "value": "#ff0000"}, "value": "#0000ff"},
  "stroke": {"condition": {"test": "datum.c > datum.o", "value": "#ff0000"}, "value": "#0000ff"}}},
{"data": {"values": [{"i": 97.8, "i2": 101.7, "p": 1.4, "p2": 1.4}]}, "mark": {"type": "rule", "color": "#0000cc", "strokeDash": [2, 2], "strokeWidth": 1},
 "encoding": {"x": {"field": "i", "type": "quantitative", "scale": {"domain": [-0.92, 109.08], "nice": false, "zero": false}}, "x2": {"field": "i2"},
 "y": {"field": "p", "type": "quantitative", "scale": {"domain": [0.211, 8.986], "nice": false, "zero": false}}, "y2": {"field": "p2"}}},
{"data": {"values": [{"i": 14.9, "p": 8.4, "t": "8,16(2021/05/12-14:40)"}]}, "mark": {"type": "text", "align": "left", "baseline": "middle", "fontSize": 12, "color": "#dd0000"},
 "encoding": {"x": {"field": "i", "type": "quantitative", "scale": {"domain": [-0.92, 109.08], "nice": false, "zero": false}},
 "y": {"field": "p", "type": "quantitative", "scale": {"domain": [0.211, 8.986], "nice": false, "zero": false}}, "text": {"field": "t"}}},
{"data": {"values": [{"i": 8.5, "i2": 14.7, "p": 8.4, "p2": 8.4}, {"i": 8.5, "i2": 8.5, "p": 8.4, "p2": 8.22}]}, "mark": {"type": "rule", "color": "#dd0000", "strokeWidth": 1},
 "encoding": {"x": {"field": "i", "type": "quantitative", "scale": {"domain": [-0.92, 109.08], "nice": false, "zero": false}}, "x2": {"field": "i2"},
 "y": {"field": "p", "type": "quantitative", "scale": {"domain": [0.211, 8.986], "nice": false, "zero": false}}, "y2": {"field": "p2"}}},
{"data": {"values": [{"i": 8.5, "p": 8.2}]}, "mark": {"type": "point", "shape": "triangle-down", "size": 18, "filled": true, "color": "#dd0000", "opacity": 1},
 "encoding": {"x": {"field": "i", "type": "quantitative", "scale": {"domain": [-0.92, 109.08], "nice": false, "zero": false}},
 "y": {"field": "p", "type": "quantitative", "scale": {"domain": [0.211, 8.986], "nice": false, "zero": false}}}},
{"data": {"values": [{"i": 87.5, "p": 0.435, "t": "0,62(2021/05/13-15:00)"}]}, "mark": {"type": "text", "align": "right", "baseline": "middle", "fontSize": 12, "color": "#0000cc"},
 "encoding": {"x": {"field": "i", "type": "quantitative", "scale": {"domain": [-0.92, 109.08], "nice": false, "zero": false}},
 "y": {"field": "p", "type": "quantitative", "scale": {"domain": [0.211, 8.986], "nice": false, "zero": false}}, "text": {"field": "t"}}},
{"data": {"values": [{"i": 87.7, "i2": 92.5, "p": 0.435, "p2": 0.435}, {"i": 92.5, "i2": 92.5, "p": 0.435, "p2": 0.57}]}, "mark": {"type": "rule", "color": "#0000cc", "strokeWidth": 1},
 "encoding": {"x": {"field": "i", "type": "quantitative", "scale": {"domain": [-0.92, 109.08], "nice": false, "zero": false}}, "x2": {"field": "i2"},
 "y": {"field": "p", "type": "quantitative", "scale": {"domain": [0.211, 8.986], "nice": false, "zero": false}}, "y2": {"field": "p2"}}},
{"data": {"values": [{"i": 92.5, "p": 0.59}]}, "mark": {"type": "point", "shape": "triangle-up", "size": 18, "filled": true, "color": "#0000cc", "opacity": 1},
 "encoding": {"x": {"field": "i", "type": "quantitative", "scale": {"domain": [-0.92, 109.08], "nice": false, "zero": false}},
 "y": {"field": "p", "type": "quantitative", "scale": {"domain": [0.211, 8.986], "nice": false, "zero": false}}}},
{"data": {"values": [{"i": 61.98, "p": 6.06}]}, "mark": {"type": "point", "shape": "M-1,0A1,0.875,0,1,0,1,0A1,0.875,0,1,0,-1,0Z", "size": 2304, "filled": false, "stroke": "#e03030", "strokeWidth": 2.5, "opacity": 1},
 "encoding": {"x": {"field": "i", "type": "quantitative", "scale": {"domain": [-0.92, 109.08], "nice": false, "zero": false}},
 "y": {"field": "p", "type": "quantitative", "scale": {"domain": [0.211, 8.986], "nice": false, "zero": false}}}},
{"data": {"values": [{"i": 22.3, "p": 2.35}]}, "mark": {"type": "point", "shape": "M-1,0A1,0.58,0,1,0,1,0A1,0.58,0,1,0,-1,0Z", "size": 2704, "filled": false, "stroke": "#e03030", "strokeWidth": 2.5, "opacity": 1},
 "encoding": {"x": {"field": "i", "type": "quantitative", "scale": {"domain": [-0.92, 109.08], "nice": false, "zero": false}},
 "y": {"field": "p", "type": "quantitative", "scale": {"domain": [0.211, 8.986], "nice": false, "zero": false}}}},
{"data": {"values": [{"i": 93.6, "p": 0.72}]}, "mark": {"type": "point", "shape": "M-1,0A1,0.61,0,1,0,1,0A1,0.61,0,1,0,-1,0Z", "size": 1296, "filled": false, "stroke": "#e03030", "strokeWidth": 2.5, "opacity": 1},
 "encoding": {"x": {"field": "i", "type": "quantitative", "scale": {"domain": [-0.92, 109.08], "nice": false, "zero": false}},
 "y": {"field": "p", "type": "quantitative", "scale": {"domain": [0.211, 8.986], "nice": false, "zero": false}}}},
{"data": {"values": [{"i": 117.5, "p": 1.45}]}, "mark": {"type": "point", "shape": "M-1,0L-0.62,-0.71L1,-0.71L1,0.71L-0.62,0.71Z", "size": 2704, "filled": true, "color": "#3d7ee6", "opacity": 1},
 "encoding": {"x": {"field": "i", "type": "quantitative", "scale": {"domain": [-0.92, 109.08], "nice": false, "zero": false}},
 "y": {"field": "p", "type": "quantitative", "scale": {"domain": [0.211, 8.986], "nice": false, "zero": false}}}},
{"data": {"values": [{"i": 125.2, "p": 1.84, "t": "1,38"}, {"i": 125.2, "p": 1.44, "t": "-79,71%"}, {"i": 125.2, "p": 1.03, "t": "▼5,42"}]}, "mark": {"type": "text", "align": "right", "baseline": "middle", "fontSize": 12, "color": "#ffffff"},
 "encoding": {"x": {"field": "i", "type": "quantitative", "scale": {"domain": [-0.92, 109.08], "nice": false, "zero": false}},
 "y": {"field": "p", "type": "quantitative", "scale": {"domain": [0.211, 8.986], "nice": false, "zero": false}}, "text": {"field": "t"}}}
]
},
{
"width": 338, "height": 246,
"layer": [
{"data": {"values": [{"i": 9.0, "p": -0.094, "p2": 4.356}, {"i": 32.2, "p": -0.094, "p2": 4.356}, {"i": 43.9, "p": -0.094, "p2": 4.356}, {"i": 56.5, "p": -0.094, "p2": 4.356}, {"i": 68.1, "p": -0.094, "p2": 4.356}, {"i": 80.4, "p": -0.094, "p2": 4.356}, {"i": 92.3, "p": -0.094, "p2": 4.356}]},
 "mark": {"type": "rule", "color": "#c8c8c8", "strokeWidth": 1},
 "encoding": {
  "x": {"field": "i", "type": "quantitative", "scale": {"domain": [-0.95, 108.08], "nice": false, "zero": false},
   "axis": {"title": null, "disable": false, "orient": "bottom", "values": [-0.95, 11.95, 21, 43.9, 56.5, 68.1, 80.4, 92.3, 108.08],
    "labelExpr": "['05/12','15','05/13','11','12','13','14','15','\u00a0\u00a015:45:00'][indexof([-0.95,11.95,21,43.9,56.5,68.1,80.4,92.3,108.08], datum.value)]",
    "labelAlign": "left", "labelOffset": 1, "labelPadding": -3, "labelFontSize": 12,
    "labelFontWeight": {"condition": {"test": "datum.value == 21", "value": "bold"}, "value": "normal"},
    "labelBound": false, "labelOverlap": false, "labelFlush": false, "tickSize": 6, "tickColor": "#000000",
    "grid": false, "domainColor": "#000000"}},
  "y": {"field": "p", "type": "quantitative", "scale": {"domain": [-0.094, 4.356], "nice": false, "zero": false},
   "axis": {"title": null, "disable": false, "orient": "right", "values": [0.5, 1, 1.5, 2, 2.5, 3, 3.5, 4], "labels": false,
    "tickSize": 5, "grid": true, "gridColor": "#c8c8c8", "domainColor": "#505050", "tickColor": "#000000"}},
  "y2": {"field": "p2"}}},
{"data": {"values": [{"i": 108.08, "p": 0.5, "t": "0,50"}, {"i": 108.08, "p": 1, "t": "1,00"}, {"i": 108.08, "p": 2, "t": "2,00"}, {"i": 108.08, "p": 2.5, "t": "2,50"}, {"i": 108.08, "p": 3, "t": "3,00"}, {"i": 108.08, "p": 3.5, "t": "3,50"}, {"i": 108.08, "p": 4, "t": "4,00"}]},
 "mark": {"type": "text", "align": "left", "baseline": "middle", "dx": 6, "fontSize": 11.5, "color": "#000000"},
 "encoding": {"x": {"field": "i", "type": "quantitative", "scale": {"domain": [-0.95, 108.08], "nice": false, "zero": false}},
 "y": {"field": "p", "type": "quantitative", "scale": {"domain": [-0.094, 4.356], "nice": false, "zero": false}}, "text": {"field": "t"}}},
{"data": {"values": [{"i": -2.3, "i2": 125, "p": 4.374, "p2": 4.664}]}, "mark": {"type": "rect", "color": "#d0d0e6"},
 "encoding": {"x": {"field": "i", "type": "quantitative", "scale": {"domain": [-0.95, 108.08], "nice": false, "zero": false}}, "x2": {"field": "i2"},
 "y": {"field": "p", "type": "quantitative", "scale": {"domain": [-0.094, 4.356], "nice": false, "zero": false}}, "y2": {"field": "p2"}}},
{"data": {"values": [{"i": -2.3, "i2": 125, "p": -0.4, "p2": -0.76}]}, "mark": {"type": "rect", "color": "#d4d0c8"},
 "encoding": {"x": {"field": "i", "type": "quantitative", "scale": {"domain": [-0.95, 108.08], "nice": false, "zero": false}}, "x2": {"field": "i2"},
 "y": {"field": "p", "type": "quantitative", "scale": {"domain": [-0.094, 4.356], "nice": false, "zero": false}}, "y2": {"field": "p2"}}},
{"data": {"values": [{"i": 0.18, "p": 4.53}, {"i": 117.1, "p": 4.53}]}, "mark": {"type": "point", "shape": "square", "size": 90, "filled": true, "fill": "#ffffff", "stroke": "#505050", "strokeWidth": 1, "opacity": 1},
 "encoding": {"x": {"field": "i", "type": "quantitative", "scale": {"domain": [-0.95, 108.08], "nice": false, "zero": false}},
 "y": {"field": "p", "type": "quantitative", "scale": {"domain": [-0.094, 4.356], "nice": false, "zero": false}}}},
{"data": {"values": [{"i": 0.18, "p": 4.53, "t": "✔"}]}, "mark": {"type": "text", "align": "center", "baseline": "middle", "fontSize": 10, "color": "#000000", "font": "DejaVu Sans"},
 "encoding": {"x": {"field": "i", "type": "quantitative", "scale": {"domain": [-0.95, 108.08], "nice": false, "zero": false}},
 "y": {"field": "p", "type": "quantitative", "scale": {"domain": [-0.094, 4.356], "nice": false, "zero": false}}, "text": {"field": "t"}}},
{"data": {"values": [{"i": 122.5, "p": 4.53, "t": "✕"}]}, "mark": {"type": "text", "align": "center", "baseline": "middle", "fontSize": 12, "color": "#cc2020", "font": "DejaVu Sans"},
 "encoding": {"x": {"field": "i", "type": "quantitative", "scale": {"domain": [-0.95, 108.08], "nice": false, "zero": false}},
 "y": {"field": "p", "type": "quantitative", "scale": {"domain": [-0.094, 4.356], "nice": false, "zero": false}}, "text": {"field": "t"}}},
{"data": {"values": [{"i": 5.18, "p": 4.53, "t": "P 2105 417.5"}]}, "mark": {"type": "text", "align": "left", "baseline": "middle", "fontSize": 14, "fontWeight": "bold", "color": "#404040", "font": "Liberation Sans"},
 "encoding": {"x": {"field": "i", "type": "quantitative", "scale": {"domain": [-0.95, 108.08], "nice": false, "zero": false}},
 "y": {"field": "p", "type": "quantitative", "scale": {"domain": [-0.094, 4.356], "nice": false, "zero": false}}, "text": {"field": "t"}}},
{"data": {"values": [{"i": 89.0, "p": 4.53, "t": "(5분) [2/2]"}]}, "mark": {"type": "text", "align": "left", "baseline": "middle", "fontSize": 13, "fontWeight": "bold", "color": "#404040"},
 "encoding": {"x": {"field": "i", "type": "quantitative", "scale": {"domain": [-0.95, 108.08], "nice": false, "zero": false}},
 "y": {"field": "p", "type": "quantitative", "scale": {"domain": [-0.094, 4.356], "nice": false, "zero": false}}, "text": {"field": "t"}}},
{"data": {"values": [{"i": 1.95, "p": 4.24, "t": "가격이동평균(종가 단순이평) 5"}]}, "mark": {"type": "text", "align": "left", "baseline": "middle", "fontSize": 12.5, "color": "#000000"},
 "encoding": {"x": {"field": "i", "type": "quantitative", "scale": {"domain": [-0.95, 108.08], "nice": false, "zero": false}},
 "y": {"field": "p", "type": "quantitative", "scale": {"domain": [-0.094, 4.356], "nice": false, "zero": false}}, "text": {"field": "t"}}},
{"data": {"values": [{"i": 0.6, "p": 4.24}]}, "mark": {"type": "point", "shape": "square", "size": 40, "filled": true, "color": "#606060", "opacity": 1},
 "encoding": {"x": {"field": "i", "type": "quantitative", "scale": {"domain": [-0.95, 108.08], "nice": false, "zero": false}},
 "y": {"field": "p", "type": "quantitative", "scale": {"domain": [-0.094, 4.356], "nice": false, "zero": false}}}},
{"data": {"values": [{"p": 3.92}]}, "mark": {"type": "rule", "color": "#c00000", "strokeWidth": 1},
 "encoding": {"y": {"field": "p", "type": "quantitative", "scale": {"domain": [-0.094, 4.356], "nice": false, "zero": false}}}},
{"data": {"values": [{"p": 2.54}]}, "mark": {"type": "rule", "color": "#cc0000", "strokeDash": [3, 2], "strokeWidth": 1},
 "encoding": {"y": {"field": "p", "type": "quantitative", "scale": {"domain": [-0.094, 4.356], "nice": false, "zero": false}}}},
{"data": {"values": [{"p": 0.21}]}, "mark": {"type": "rule", "color": "#0000aa", "strokeDash": [3, 2], "strokeWidth": 1},
 "encoding": {"y": {"field": "p", "type": "quantitative", "scale": {"domain": [-0.094, 4.356], "nice": false, "zero": false}}}},
{"data": {"values": [{"p": 0.17}]}, "mark": {"type": "rule", "color": "#0000aa", "strokeWidth": 1},
 "encoding": {"y": {"field": "p", "type": "quantitative", "scale": {"domain": [-0.094, 4.356], "nice": false, "zero": false}}}},
{"data": {"values": [{"p": 3.14}]}, "mark": {"type": "rule", "color": "#008000", "strokeWidth": 2},
 "encoding": {"y": {"field": "p", "type": "quantitative", "scale": {"domain": [-0.094, 4.356], "nice": false, "zero": false}}}},
{"data": {"values": [{"i": 21}]}, "mark": {"type": "rule", "color": "#ff0000", "strokeWidth": 1},
 "encoding": {"x": {"field": "i", "type": "quantitative", "scale": {"domain": [-0.95, 108.08], "nice": false, "zero": false}}}},
{"data": {"values": [{"i": 107.4, "p": 4.06, "t": "[고가]3,92"}, {"i": 107.4, "p": 3.27, "t": "[시가]3,14"}, {"i": 107.4, "p": 2.69, "t": "[전일 고가]2,54"}, {"i": 107.4, "p": 0.296, "t": "[전일 저가]0,21"}, {"i": 90.3, "p": 0.296, "t": "[저가]0,18"}]},
 "mark": {"type": "text", "align": "right", "baseline": "middle", "fontSize": 12, "color": "#000000"},
 "encoding": {"x": {"field": "i", "type": "quantitative", "scale": {"domain": [-0.95, 108.08], "nice": false, "zero": false}},
 "y": {"field": "p", "type": "quantitative", "scale": {"domain": [-0.094, 4.356], "nice": false, "zero": false}}, "text": {"field": "t"}}},
{"data": {"name": "put"}, "mark": {"type": "rule", "clip": true, "strokeWidth": 1},
 "encoding": {"x": {"field": "i", "type": "quantitative", "scale": {"domain": [-0.95, 108.08], "nice": false, "zero": false}},
  "y": {"field": "l", "type": "quantitative", "scale": {"domain": [-0.094, 4.356], "nice": false, "zero": false}}, "y2": {"field": "h"},
  "color": {"condition": {"test": "datum.c > datum.o", "value": "#ff0000"}, "value": "#0000ff"}}},
{"data": {"name": "put"}, "mark": {"type": "bar", "clip": true, "width": 1, "strokeWidth": 1},
 "encoding": {"x": {"field": "i", "type": "quantitative", "scale": {"domain": [-0.95, 108.08], "nice": false, "zero": false}},
  "y": {"field": "o", "type": "quantitative", "scale": {"domain": [-0.094, 4.356], "nice": false, "zero": false}}, "y2": {"field": "c"},
  "color": {"condition": {"test": "datum.c > datum.o", "value": "#ff0000"}, "value": "#0000ff"},
  "stroke": {"condition": {"test": "datum.c > datum.o", "value": "#ff0000"}, "value": "#0000ff"}}},
{"data": {"name": "put"}, "transform": [{"window": [{"op": "mean", "field": "c", "as": "ma"}], "frame": [-4, 0], "sort": [{"field": "i"}]}],
 "mark": {"type": "line", "clip": true, "color": "#000000", "strokeWidth": 1},
 "encoding": {"x": {"field": "i", "type": "quantitative", "scale": {"domain": [-0.95, 108.08], "nice": false, "zero": false}},
  "y": {"field": "ma", "type": "quantitative", "scale": {"domain": [-0.094, 4.356], "nice": false, "zero": false}}}},
{"data": {"values": [{"i": 96.8, "i2": 101, "p": 1.36, "p2": 1.36}]}, "mark": {"type": "rule", "color": "#cc0000", "strokeDash": [2, 2], "strokeWidth": 1},
 "encoding": {"x": {"field": "i", "type": "quantitative", "scale": {"domain": [-0.95, 108.08], "nice": false, "zero": false}}, "x2": {"field": "i2"},
 "y": {"field": "p", "type": "quantitative", "scale": {"domain": [-0.094, 4.356], "nice": false, "zero": false}}, "y2": {"field": "p2"}}},
{"data": {"values": [{"i": 27.9, "p": 4.05, "t": "3,92(2021/05/13-09:05)"}]}, "mark": {"type": "text", "align": "left", "baseline": "middle", "fontSize": 12, "color": "#dd0000"},
 "encoding": {"x": {"field": "i", "type": "quantitative", "scale": {"domain": [-0.95, 108.08], "nice": false, "zero": false}},
 "y": {"field": "p", "type": "quantitative", "scale": {"domain": [-0.094, 4.356], "nice": false, "zero": false}}, "text": {"field": "t"}}},
{"data": {"values": [{"i": 21.5, "i2": 27.7, "p": 4.05, "p2": 4.05}, {"i": 21.5, "i2": 21.5, "p": 4.05, "p2": 3.96}]}, "mark": {"type": "rule", "color": "#dd0000", "strokeWidth": 1},
 "encoding": {"x": {"field": "i", "type": "quantitative", "scale": {"domain": [-0.95, 108.08], "nice": false, "zero": false}}, "x2": {"field": "i2"},
 "y": {"field": "p", "type": "quantitative", "scale": {"domain": [-0.094, 4.356], "nice": false, "zero": false}}, "y2": {"field": "p2"}}},
{"data": {"values": [{"i": 21.5, "p": 3.95}]}, "mark": {"type": "point", "shape": "triangle-down", "size": 18, "filled": true, "color": "#dd0000", "opacity": 1},
 "encoding": {"x": {"field": "i", "type": "quantitative", "scale": {"domain": [-0.95, 108.08], "nice": false, "zero": false}},
 "y": {"field": "p", "type": "quantitative", "scale": {"domain": [-0.094, 4.356], "nice": false, "zero": false}}}},
{"data": {"values": [{"i": 53.1, "p": 0.035, "t": "0,18(2021/05/13-12:15)"}]}, "mark": {"type": "text", "align": "right", "baseline": "middle", "fontSize": 12, "color": "#0000cc"},
 "encoding": {"x": {"field": "i", "type": "quantitative", "scale": {"domain": [-0.95, 108.08], "nice": false, "zero": false}},
 "y": {"field": "p", "type": "quantitative", "scale": {"domain": [-0.094, 4.356], "nice": false, "zero": false}}, "text": {"field": "t"}}},
{"data": {"values": [{"i": 53.3, "i2": 59.5, "p": 0.035, "p2": 0.035}, {"i": 59.5, "i2": 59.5, "p": 0.035, "p2": 0.11}]}, "mark": {"type": "rule", "color": "#0000cc", "strokeWidth": 1},
 "encoding": {"x": {"field": "i", "type": "quantitative", "scale": {"domain": [-0.95, 108.08], "nice": false, "zero": false}}, "x2": {"field": "i2"},
 "y": {"field": "p", "type": "quantitative", "scale": {"domain": [-0.094, 4.356], "nice": false, "zero": false}}, "y2": {"field": "p2"}}},
{"data": {"values": [{"i": 59.5, "p": 0.12}]}, "mark": {"type": "point", "shape": "triangle-up", "size": 18, "filled": true, "color": "#0000cc", "opacity": 1},
 "encoding": {"x": {"field": "i", "type": "quantitative", "scale": {"domain": [-0.95, 108.08], "nice": false, "zero": false}},
 "y": {"field": "p", "type": "quantitative", "scale": {"domain": [-0.094, 4.356], "nice": false, "zero": false}}}},
{"data": {"values": [{"i": 22.6, "p": 3.886}]}, "mark": {"type": "point", "shape": "M-1,0A1,0.73,0,1,0,1,0A1,0.73,0,1,0,-1,0Z", "size": 1936, "filled": false, "stroke": "#e03030", "strokeWidth": 2.5, "opacity": 1},
 "encoding": {"x": {"field": "i", "type": "quantitative", "scale": {"domain": [-0.95, 108.08], "nice": false, "zero": false}},
 "y": {"field": "p", "type": "quantitative", "scale": {"domain": [-0.094, 4.356], "nice": false, "zero": false}}}},
{"data": {"values": [{"i": 91.3, "p": 2.494}]}, "mark": {"type": "point", "shape": "M-1,0A1,1.05,0,1,0,1,0A1,1.05,0,1,0,-1,0Z", "size": 1936, "filled": false, "stroke": "#e03030", "strokeWidth": 2.5, "opacity": 1},
 "encoding": {"x": {"field": "i", "type": "quantitative", "scale": {"domain": [-0.95, 108.08], "nice": false, "zero": false}},
 "y": {"field": "p", "type": "quantitative", "scale": {"domain": [-0.094, 4.356], "nice": false, "zero": false}}}},
{"data": {"values": [{"i": 59.2, "p": 0.134}]}, "mark": {"type": "point", "shape": "M-1,0A1,0.89,0,1,0,1,0A1,0.89,0,1,0,-1,0Z", "size": 1225, "filled": false, "stroke": "#e03030", "strokeWidth": 2.5, "opacity": 1},
 "encoding": {"x": {"field": "i", "type": "quantitative", "scale": {"domain": [-0.95, 108.08], "nice": false, "zero": false}},
 "y": {"field": "p", "type": "quantitative", "scale": {"domain": [-0.094, 4.356], "nice": false, "zero": false}}}},
{"data": {"values": [{"i": 117.1, "p": 1.345}]}, "mark": {"type": "point", "shape": "M-1,0L-0.79,-0.685L1,-0.685L1,0.685L-0.79,0.685Z", "size": 2916, "filled": true, "color": "#d9531e", "opacity": 1},
 "encoding": {"x": {"field": "i", "type": "quantitative", "scale": {"domain": [-0.95, 108.08], "nice": false, "zero": false}},
 "y": {"field": "p", "type": "quantitative", "scale": {"domain": [-0.094, 4.356], "nice": false, "zero": false}}}},
{"data": {"values": [{"i": 125.2, "p": 1.56, "t": "1,36"}, {"i": 125.2, "p": 1.35, "t": "+25,93%"}, {"i": 125.2, "p": 1.14, "t": "▲0,28"}]}, "mark": {"type": "text", "align": "right", "baseline": "middle", "fontSize": 12, "color": "#ffffff"},
 "encoding": {"x": {"field": "i", "type": "quantitative", "scale": {"domain": [-0.95, 108.08], "nice": false, "zero": false}},
 "y": {"field": "p", "type": "quantitative", "scale": {"domain": [-0.094, 4.356], "nice": false, "zero": false}}, "text": {"field": "t"}}}
]
}
],
"spacing": 51,
"bounds": "flush"
}
]
}
